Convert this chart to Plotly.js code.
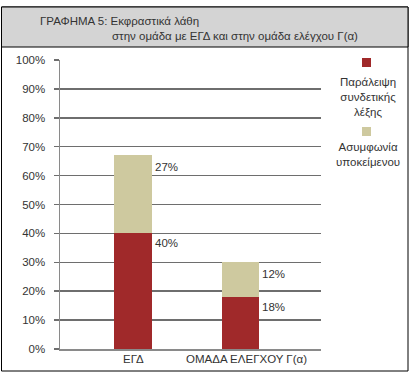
<!DOCTYPE html>
<html>
<head>
<meta charset="utf-8">
<script src="https://cdn.plot.ly/plotly-3.0.1.min.js"></script>
<style>html,body{margin:0;padding:0;background:#fff;}#chart{width:420px;height:374px;}</style>
</head>
<body>
<div id="chart"></div>
<script>
// ---- data ----
const categories = ["ΕΓΔ", "ΟΜΑΔΑ ΕΛΕΓΧΟΥ Γ(α)"];
const omission = [40, 18];       // Παράλειψη συνδετικής λέξης
const disagreement = [27, 12];   // Ασυμφωνία υποκείμενου
const seriesNames = ["Παράλειψη<br>συνδετικής<br>λέξης", "Ασυμφωνία<br>υποκείμενου"];
const yTickVals = [0, 10, 20, 30, 40, 50, 60, 70, 80, 90, 100];
const yTickText = ["0%", "10%", "20%", "30%", "40%", "50%", "60%", "70%", "80%", "90%", "100%"];
const titleLines = ["ΓΡΑΦΗΜΑ 5: Εκφραστικά λάθη", "στην ομάδα με ΕΓΔ και στην ομάδα ελέγχου Γ(α)"];

// ---- layout geometry (pixels) ----
const W = 420, H = 374;
const M = {l: 60, r: 99, t: 60, b: 25};
const PW = W - M.l - M.r, PH = H - M.t - M.b;
const ux = px => (px - M.l) / PW;
const vy = py => (H - M.b - py) / PH;

const RED = "#A0292A", BEIGE = "#CEC99F";
const FONT = "Liberation Sans, Arial, sans-serif";
const TXT = "#333333";

const traces = [
  {type: "bar", x: categories, y: omission, name: seriesNames[0], marker: {color: RED}, width: 0.35, hoverinfo: "none"},
  {type: "bar", x: categories, y: disagreement, name: seriesNames[1], marker: {color: BEIGE}, width: 0.35, hoverinfo: "none"}
];

const annotations = [];
// value labels at top-right of each segment
categories.forEach((c, i) => {
  annotations.push({x: i + 0.175, y: omission[i], xref: "x", yref: "y", text: omission[i] + "%",
    xanchor: "left", yanchor: "top", showarrow: false, xshift: 1, yshift: -2,
    font: {family: FONT, size: 11.5, color: TXT}});
  annotations.push({x: i + 0.175, y: omission[i] + disagreement[i], xref: "x", yref: "y", text: disagreement[i] + "%",
    xanchor: "left", yanchor: "top", showarrow: false, xshift: 1, yshift: -4,
    font: {family: FONT, size: 11.5, color: TXT}});
});
// category labels (second one sits slightly right of its bar in the original)
const catShift = [0, 6];
categories.forEach((c, i) => {
  annotations.push({x: i, y: 0, xref: "x", yref: "y", text: c, xanchor: "center", yanchor: "top",
    showarrow: false, xshift: catShift[i], yshift: -2, font: {family: FONT, size: 11.5, color: TXT}});
});
// title
annotations.push({x: ux(38), y: vy(21), xref: "paper", yref: "paper", text: titleLines[0],
  xanchor: "left", yanchor: "middle", showarrow: false, font: {family: FONT, size: 11.5, color: TXT}});
annotations.push({x: ux(110), y: vy(36), xref: "paper", yref: "paper", text: titleLines[1],
  xanchor: "left", yanchor: "middle", showarrow: false, font: {family: FONT, size: 11.5, color: TXT}});
// legend text
annotations.push({x: ux(368), y: vy(74), xref: "paper", yref: "paper", text: seriesNames[0],
  xanchor: "center", yanchor: "top", align: "center", showarrow: false,
  font: {family: FONT, size: 11.5, color: TXT}});
annotations.push({x: ux(368), y: vy(139), xref: "paper", yref: "paper", text: seriesNames[1],
  xanchor: "center", yanchor: "top", align: "center", showarrow: false,
  font: {family: FONT, size: 11.5, color: TXT}});

const shapes = [
  // outer frame
  {type: "rect", xref: "paper", yref: "paper", x0: ux(1.5), x1: ux(408), y0: vy(371), y1: vy(7),
   line: {color: "#000", width: 1}, fillcolor: "rgba(0,0,0,0)", layer: "below"},
  // title band
  {type: "rect", xref: "paper", yref: "paper", x0: ux(1.5), x1: ux(408), y0: vy(47), y1: vy(7),
   line: {color: "#000", width: 1}, fillcolor: "#D4D4D4", layer: "below"},
  // legend swatches
  {type: "rect", xref: "paper", yref: "paper", x0: ux(362), x1: ux(371), y0: vy(67), y1: vy(58),
   line: {width: 0}, fillcolor: RED},
  {type: "rect", xref: "paper", yref: "paper", x0: ux(362), x1: ux(371), y0: vy(136), y1: vy(127),
   line: {width: 0}, fillcolor: BEIGE}
];

const layout = {
  width: W, height: H,
  margin: M,
  paper_bgcolor: "#fff", plot_bgcolor: "#fff",
  barmode: "stack",
  showlegend: false,
  font: {family: FONT, size: 11.5, color: TXT},
  xaxis: {type: "category", range: [-0.68, 1.75], showgrid: false, zeroline: false,
    showline: true, linecolor: "#8a8a8a", linewidth: 2, ticks: "", showticklabels: false,
    fixedrange: true},
  yaxis: {range: [0, 100], tickvals: yTickVals, ticktext: yTickText,
    showgrid: true, gridcolor: "#6e6e6e", gridwidth: 1.5, zeroline: false,
    showline: true, linecolor: "#8a8a8a", linewidth: 1.5,
    ticks: "outside", ticklen: 5, tickcolor: "#6e6e6e", tickwidth: 1.5,
    ticklabelstandoff: 6, fixedrange: true,
    tickfont: {family: FONT, size: 11.5, color: TXT}},
  annotations: annotations,
  shapes: shapes
};

Plotly.newPlot("chart", traces, layout, {displayModeBar: false, staticPlot: true});
</script>
</body>
</html>
